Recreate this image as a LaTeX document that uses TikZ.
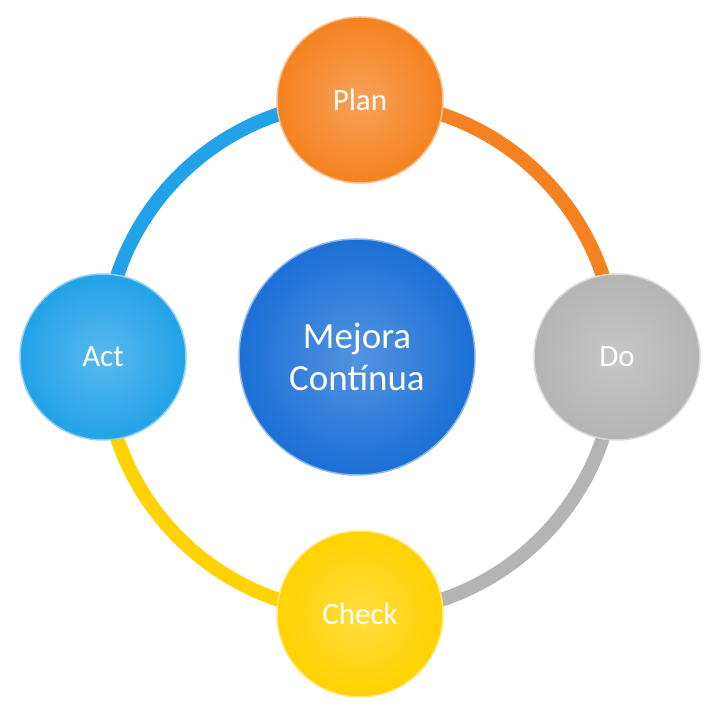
\documentclass[tikz,border=0pt]{standalone}
\usepackage{fontspec}
\setmainfont{Carlito}
\usetikzlibrary{shadings}
\definecolor{cOr}{HTML}{F58220}
\definecolor{cGr}{HTML}{B4B4B4}
\definecolor{cYe}{HTML}{FFD200}
\definecolor{cBl}{HTML}{22A2E8}
\definecolor{cCe}{HTML}{1B6FD6}
\begin{document}
\begin{tikzpicture}[x=1pt,y=1pt,
  ring/.style={line width=14pt},
  ball/.style={circle,minimum size=166pt,inner sep=0pt,text=white,font=\fontsize{31}{33}\selectfont},
  shade/.style={shading=radial,inner color=white!25!#1,outer color=#1,draw=white!50!#1,line width=1.5pt},
  ]
\useasboundingbox (0,0) rectangle (726,723);
\fill[white] (0,0) rectangle (726,723);
\coordinate (c) at (360,366);
\coordinate (pt) at (360,622);
\coordinate (dt) at (616,366);
\coordinate (ct) at (360,110);
\coordinate (at) at (104,366);
\draw[ring,cOr] (pt) arc[start angle=90,end angle=0,radius=256];
\draw[ring,cGr] (dt) arc[start angle=0,end angle=-90,radius=256];
\draw[ring,cYe] (ct) arc[start angle=270,end angle=180,radius=256];
\draw[ring,cBl] (at) arc[start angle=180,end angle=90,radius=256];
\node[ball,shade=cOr] (plan) at (360,623) {Plan};
\node[ball,shade=cGr] (do) at (617,366) {Do};
\node[ball,shade=cYe] (check) at (360,109) {Check};
\node[ball,shade=cBl] (act) at (103,366) {Act};
\node[circle,minimum size=236pt,inner sep=0pt,shade=cCe,text=white,align=center,
  font=\fontsize{37}{42}\selectfont] (mejora) at (357,366) {Mejora\\Contínua};
\end{tikzpicture}
\end{document}
